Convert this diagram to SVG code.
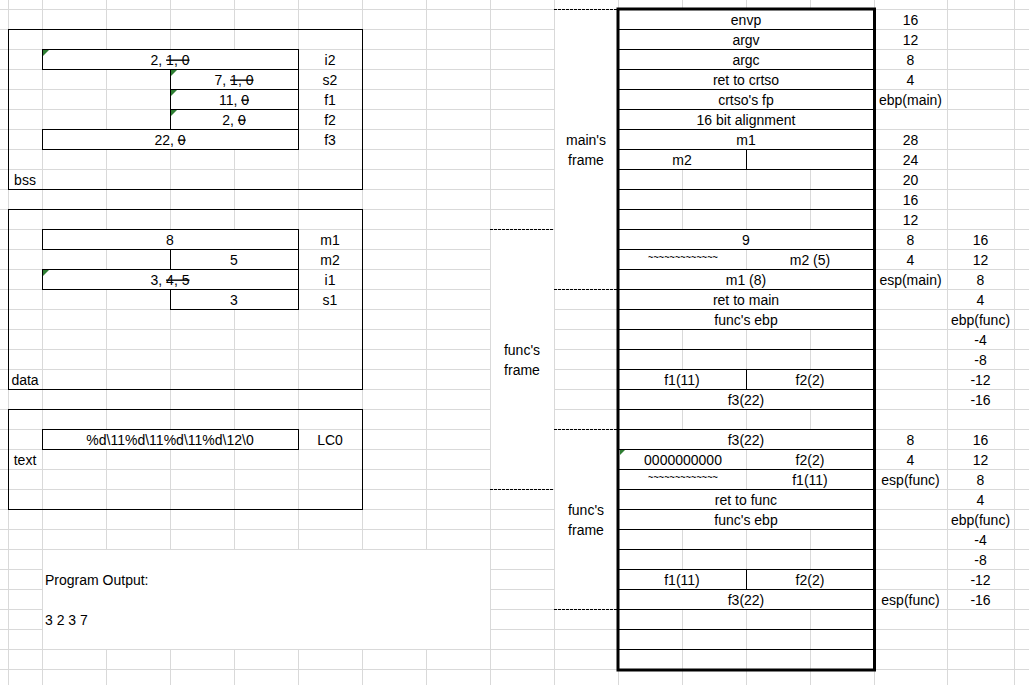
<svg xmlns="http://www.w3.org/2000/svg" width="1029" height="685" viewBox="0 0 1029 685">
<style>
.g{stroke:#d9d9d9;stroke-width:1;fill:none}
.b{stroke:#000;stroke-width:1;fill:none}
.cell{fill:#fff;stroke:#000;stroke-width:1}
.box{fill:none;stroke:#000;stroke-width:1}
.w{fill:#fff}
.t{font-family:"Liberation Sans",Arial,sans-serif;font-size:14px;fill:#000}
.c{text-anchor:middle}
.s{text-decoration:line-through}
.tl{font-family:"Liberation Sans",Arial,sans-serif;font-size:12px;fill:#000;text-anchor:middle}
.tri{fill:#2e7d32}
.d{stroke:#000;stroke-width:1;stroke-dasharray:3 1;fill:none}
</style>
<rect width="1029" height="685" fill="#fff"/>
<g id="grid">
<path class="g" d="M8.5 0V685M42.5 0V685M106.5 0V685M170.5 0V685M234.5 0V685M298.5 0V685M362.5 0V685M426.5 0V685M490.5 0V685M554.5 0V685M618.5 0V685M682.5 0V685M746.5 0V685M810.5 0V685M874.5 0V685M947.5 0V685M1014.5 0V685"/>
<path class="g" d="M0 9.5H1029M0 29.5H1029M0 49.5H1029M0 69.5H1029M0 89.5H1029M0 109.5H1029M0 129.5H1029M0 149.5H1029M0 169.5H1029M0 189.5H1029M0 209.5H1029M0 229.5H1029M0 249.5H1029M0 269.5H1029M0 289.5H1029M0 309.5H1029M0 329.5H1029M0 349.5H1029M0 369.5H1029M0 389.5H1029M0 409.5H1029M0 429.5H1029M0 449.5H1029M0 469.5H1029M0 489.5H1029M0 509.5H1029M0 529.5H1029M0 549.5H1029M0 569.5H1029M0 589.5H1029M0 609.5H1029M0 629.5H1029M0 649.5H1029M0 669.5H1029"/>
<rect class="w" x="555" y="10" width="63" height="279"/>
<rect class="w" x="491" y="230" width="63" height="259"/>
<rect class="w" x="555" y="430" width="63" height="179"/>
</g>
<g id="bss">
<rect class="box" x="8.5" y="29.5" width="354" height="160"/>
<rect class="cell" x="42.5" y="49.5" width="256" height="20"/>
<rect class="cell" x="170.5" y="69.5" width="128" height="20"/>
<rect class="cell" x="170.5" y="89.5" width="128" height="20"/>
<rect class="cell" x="170.5" y="109.5" width="128" height="20"/>
<rect class="cell" x="42.5" y="129.5" width="256" height="20"/>
<polygon class="tri" points="43,50 49,50 43,56"/>
<polygon class="tri" points="171,70 177,70 171,76"/>
<polygon class="tri" points="171,90 177,90 171,96"/>
<polygon class="tri" points="171,110 177,110 171,116"/>
<text class="t c" x="170" y="64.5">2, <tspan class="s">1, 0</tspan></text>
<text class="t c" x="234" y="84.5">7, <tspan class="s">1, 0</tspan></text>
<text class="t c" x="234" y="104.5">11, <tspan class="s">0</tspan></text>
<text class="t c" x="234" y="124.5">2, <tspan class="s">0</tspan></text>
<text class="t c" x="170" y="144.5">22, <tspan class="s">0</tspan></text>
<text class="t c" x="330" y="64.5">i2</text>
<text class="t c" x="330" y="84.5">s2</text>
<text class="t c" x="330" y="104.5">f1</text>
<text class="t c" x="330" y="124.5">f2</text>
<text class="t c" x="330" y="144.5">f3</text>
<text class="t c" x="25" y="184.5">bss</text>
</g>
<g id="data">
<rect class="box" x="8.5" y="209.5" width="354" height="180"/>
<rect class="cell" x="42.5" y="229.5" width="256" height="20"/>
<rect class="cell" x="170.5" y="249.5" width="128" height="20"/>
<rect class="cell" x="42.5" y="269.5" width="256" height="20"/>
<rect class="cell" x="170.5" y="289.5" width="128" height="20"/>
<polygon class="tri" points="43,270 49,270 43,276"/>
<text class="t c" x="170" y="244.5">8</text>
<text class="t c" x="234" y="264.5">5</text>
<text class="t c" x="170" y="284.5">3, <tspan class="s">4, 5</tspan></text>
<text class="t c" x="234" y="304.5">3</text>
<text class="t c" x="330" y="244.5">m1</text>
<text class="t c" x="330" y="264.5">m2</text>
<text class="t c" x="330" y="284.5">i1</text>
<text class="t c" x="330" y="304.5">s1</text>
<text class="t c" x="25" y="384.5">data</text>
</g>
<g id="textseg">
<rect class="box" x="8.5" y="409.5" width="354" height="100"/>
<rect class="cell" x="42.5" y="429.5" width="256" height="20"/>
<text class="t c" x="170" y="444.5">%d\11%d\11%d\11%d\12\0</text>
<text class="t c" x="330" y="444.5">LC0</text>
<text class="t c" x="25" y="464.5">text</text>
</g>
<g id="output">
<rect class="w" x="43" y="550" width="447" height="99"/>
<text class="t" x="45" y="584.5">Program Output:</text>
<text class="t" x="45" y="624.5">3 2 3 7</text>
</g>
<g id="stack">
<rect class="w" x="619" y="10" width="255" height="660"/>
<path class="g" d="M682.5 169V229M746.5 169V229M810.5 169V229M746.5 249V269M682.5 329V369M746.5 329V369M810.5 329V369M682.5 409V429M746.5 409V429M810.5 409V429M746.5 449V489M682.5 529V569M746.5 529V569M810.5 529V569M682.5 609V669M746.5 609V669M810.5 609V669"/>
<path class="b" d="M618 29.5H874M618 49.5H874M618 69.5H874M618 89.5H874M618 109.5H874M618 129.5H874M618 149.5H874M618 169.5H874M618 189.5H874M618 209.5H874M618 229.5H874M618 249.5H874M618 269.5H874M618 289.5H874M618 309.5H874M618 329.5H874M618 349.5H874M618 369.5H874M618 389.5H874M618 409.5H874M618 429.5H874M618 449.5H874M618 469.5H874M618 489.5H874M618 509.5H874M618 529.5H874M618 549.5H874M618 569.5H874M618 589.5H874M618 609.5H874M618 629.5H874M618 649.5H874"/>
<path class="b" d="M746.5 149V169M746.5 369V389M746.5 569V589"/>
<polygon class="tri" points="620,450 625,450 620,455"/>
<text class="t c" x="746" y="24.5">envp</text>
<text class="t c" x="746" y="44.5">argv</text>
<text class="t c" x="746" y="64.5">argc</text>
<text class="t c" x="746" y="84.5">ret to crtso</text>
<text class="t c" x="746" y="104.5">crtso's fp</text>
<text class="t c" x="746" y="124.5">16 bit alignment</text>
<text class="t c" x="746" y="144.5">m1</text>
<text class="t c" x="682" y="164.5">m2</text>
<text class="t c" x="746" y="244.5">9</text>
<text class="tl" x="683" y="261" textLength="70" lengthAdjust="spacingAndGlyphs">~~~~~~~~~~~~~</text>
<text class="t c" x="810" y="264.5">m2 (5)</text>
<text class="t c" x="746" y="284.5">m1 (8)</text>
<text class="t c" x="746" y="304.5">ret to main</text>
<text class="t c" x="746" y="324.5">func's ebp</text>
<text class="t c" x="682" y="384.5">f1(11)</text>
<text class="t c" x="810" y="384.5">f2(2)</text>
<text class="t c" x="746" y="404.5">f3(22)</text>
<text class="t c" x="746" y="444.5">f3(22)</text>
<text class="t c" x="683" y="464.5">0000000000</text>
<text class="t c" x="810" y="464.5">f2(2)</text>
<text class="tl" x="683" y="481" textLength="70" lengthAdjust="spacingAndGlyphs">~~~~~~~~~~~~~</text>
<text class="t c" x="810" y="484.5">f1(11)</text>
<text class="t c" x="746" y="504.5">ret to func</text>
<text class="t c" x="746" y="524.5">func's ebp</text>
<text class="t c" x="682" y="584.5">f1(11)</text>
<text class="t c" x="810" y="584.5">f2(2)</text>
<text class="t c" x="746" y="604.5">f3(22)</text>
<rect x="618" y="9" width="256.5" height="661" fill="none" stroke="#000" stroke-width="3"/>
</g>
<g id="frames">
<text class="t c" x="586" y="145">main's</text>
<text class="t c" x="586" y="164.5">frame</text>
<text class="t c" x="522" y="355">func's</text>
<text class="t c" x="522" y="374.5">frame</text>
<text class="t c" x="586" y="515">func's</text>
<text class="t c" x="586" y="534.5">frame</text>
</g>
<g id="offsets">
<text class="t c" x="910.5" y="24.5">16</text>
<text class="t c" x="910.5" y="44.5">12</text>
<text class="t c" x="910.5" y="64.5">8</text>
<text class="t c" x="910.5" y="84.5">4</text>
<text class="t c" x="910.5" y="104.5">ebp(main)</text>
<text class="t c" x="910.5" y="144.5">28</text>
<text class="t c" x="910.5" y="164.5">24</text>
<text class="t c" x="910.5" y="184.5">20</text>
<text class="t c" x="910.5" y="204.5">16</text>
<text class="t c" x="910.5" y="224.5">12</text>
<text class="t c" x="910.5" y="244.5">8</text>
<text class="t c" x="910.5" y="264.5">4</text>
<text class="t c" x="910.5" y="284.5">esp(main)</text>
<text class="t c" x="910.5" y="444.5">8</text>
<text class="t c" x="910.5" y="464.5">4</text>
<text class="t c" x="910.5" y="484.5">esp(func)</text>
<text class="t c" x="910.5" y="604.5">esp(func)</text>
<text class="t c" x="980.5" y="244.5">16</text>
<text class="t c" x="980.5" y="264.5">12</text>
<text class="t c" x="980.5" y="284.5">8</text>
<text class="t c" x="980.5" y="304.5">4</text>
<text class="t c" x="980.5" y="324.5">ebp(func)</text>
<text class="t c" x="980.5" y="344.5">-4</text>
<text class="t c" x="980.5" y="364.5">-8</text>
<text class="t c" x="980.5" y="384.5">-12</text>
<text class="t c" x="980.5" y="404.5">-16</text>
<text class="t c" x="980.5" y="444.5">16</text>
<text class="t c" x="980.5" y="464.5">12</text>
<text class="t c" x="980.5" y="484.5">8</text>
<text class="t c" x="980.5" y="504.5">4</text>
<text class="t c" x="980.5" y="524.5">ebp(func)</text>
<text class="t c" x="980.5" y="544.5">-4</text>
<text class="t c" x="980.5" y="564.5">-8</text>
<text class="t c" x="980.5" y="584.5">-12</text>
<text class="t c" x="980.5" y="604.5">-16</text>
</g>
<g id="connectors">
<path class="d" d="M554 9.5H618M490 229.5H554M554 289.5H618M554 429.5H618M490 489.5H554M554 609.5H618"/>
</g>
</svg>
